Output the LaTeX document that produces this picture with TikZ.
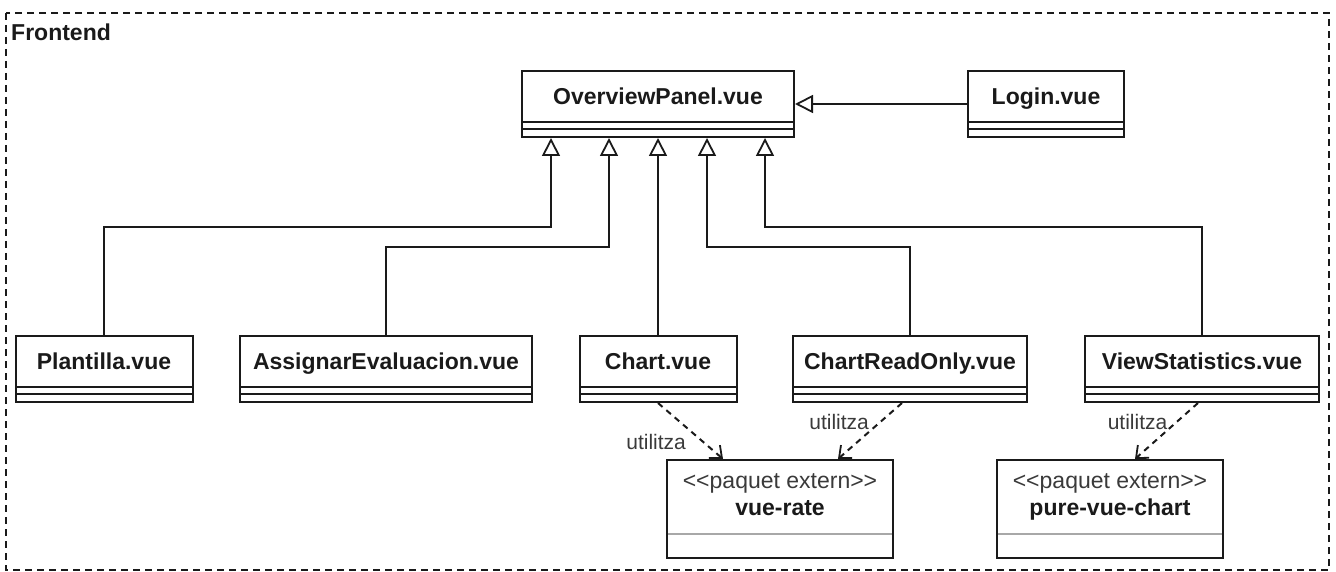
\documentclass[tikz,border=0pt]{standalone}
\usepackage{fontspec}
\setmainfont{Liberation Sans}
\usetikzlibrary{arrows.meta}

\definecolor{ink}{HTML}{1A1A1A}
\definecolor{soft}{HTML}{3A3A3A}
\definecolor{rule}{HTML}{A8A8A8}

\tikzset{
  lw/.style={line width=2pt},
  classbox/.style={lw, draw=ink, fill=white, inner sep=0pt,
    minimum height=66pt, text=ink,
    font=\fontsize{23}{27}\selectfont\bfseries,
    text height=16pt, text depth=14.5pt,
    path picture={
      \draw[lw, draw=ink]
        ([yshift=15pt]path picture bounding box.south west) --
        ([yshift=15pt]path picture bounding box.south east);
      \draw[lw, draw=ink]
        ([yshift=8pt]path picture bounding box.south west) --
        ([yshift=8pt]path picture bounding box.south east);
    }},
  extbox/.style={lw, draw=ink, fill=white, inner sep=0pt,
    minimum width=226pt, minimum height=98pt, text=ink,
    font=\fontsize{23}{27}\selectfont,
    text height=17pt, text depth=59pt,
    path picture={
      \draw[lw, draw=rule]
        ([yshift=24pt]path picture bounding box.south west) --
        ([yshift=24pt]path picture bounding box.south east);
    }},
  generalizes/.style={lw, draw=ink,
    -{Triangle[open, length=18pt, width=18pt, fill=white, line width=1.8pt]}},
  uses/.style={lw, draw=ink, dash pattern=on 6pt off 5pt,
    -{Straight Barb[length=10pt, width=17pt, line width=1.8pt]}},
  useslabel/.style={inner sep=0pt, text=soft,
    font=\fontsize{21}{25}\selectfont},
  package/.style={lw, draw=ink, dash pattern=on 7pt off 5pt},
}

% stereotype line above the bold package name
\newcommand{\extern}[1]{\begin{tabular}[t]{@{}c@{}}{\color{soft}<{}<paquet extern>{}>}\\\textbf{#1}\end{tabular}}

\begin{document}
\begin{tikzpicture}[x=1pt, y=-1pt]
  \useasboundingbox (0,0) rectangle (1336,572);

  % package frame
  \draw[package] (6,13) rectangle (1329,570);
  \node[anchor=base west, inner sep=0pt, text=ink,
        font=\fontsize{23}{27}\selectfont\bfseries] (title) at (11,41) {Frontend};

  % components
  \node[classbox, minimum width=272pt] (op)    at (658,104)   {OverviewPanel.vue};
  \node[classbox, minimum width=156pt] (login) at (1046,104)  {Login.vue};

  \node[classbox, minimum width=177pt] (pl)    at (104,369)   {Plantilla.vue};
  \node[classbox, minimum width=292pt] (as)    at (386,369)   {AssignarEvaluacion.vue};
  \node[classbox, minimum width=157pt] (chart) at (658,369)   {Chart.vue};
  \node[classbox, minimum width=234pt] (cro)   at (910,369)   {ChartReadOnly.vue};
  \node[classbox, minimum width=234pt] (vs)    at (1202,369)  {ViewStatistics.vue};

  % external packages
  \node[extbox] (rate) at (780,509)  {\extern{vue-rate}};
  \node[extbox] (pvc)  at (1110,509) {\extern{pure-vue-chart}};

  % routing levels of the inheritance lines
  \coordinate (upper) at (0,227);
  \coordinate (lower) at (0,247);

  % inheritance
  \draw[generalizes] (login.west) -- (op.east);
  \draw[generalizes] (pl.north) -- (pl.north |- upper) -| ([xshift=-107pt]op.south);
  \draw[generalizes] (as.north) -- (as.north |- lower) -| ([xshift=-49pt]op.south);
  \draw[generalizes] (chart.north) -- (op.south);
  \draw[generalizes] (cro.north) -- (cro.north |- lower) -| ([xshift=49pt]op.south);
  \draw[generalizes] (vs.north) -- (vs.north |- upper) -| ([xshift=107pt]op.south);

  % usage dependencies
  \draw[uses] (chart.south) -- ([xshift=-57pt]rate.north)
    node[useslabel, pos=0.69, anchor=east, xshift=-16pt] (u1) {utilitza};
  \draw[uses] ([xshift=-8pt]cro.south) -- ([xshift=58pt]rate.north)
    node[useslabel, pos=0.345, anchor=east, xshift=-10pt] (u2) {utilitza};
  \draw[uses] ([xshift=-4pt]vs.south) -- ([xshift=25pt]pvc.north)
    node[useslabel, pos=0.345, anchor=east, xshift=-8pt] (u3) {utilitza};
\end{tikzpicture}
\end{document}
